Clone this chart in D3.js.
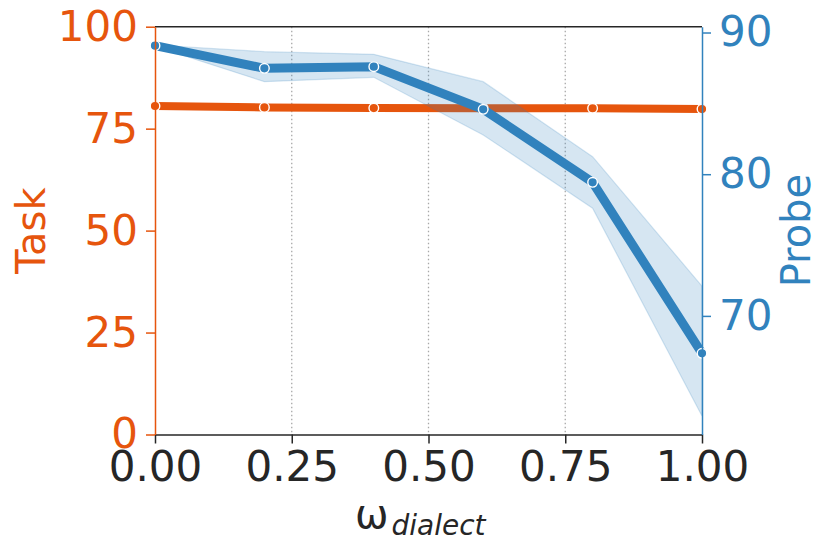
<!DOCTYPE html>
<html>
<head>
<meta charset="utf-8">
<script src="https://cdn.jsdelivr.net/npm/d3@7"></script>
<style>
html,body{margin:0;padding:0;background:#fff;}
text{font-family:"DejaVu Sans",sans-serif;}
</style>
</head>
<body>
<svg id="chart" width="830" height="550"></svg>
<script>
const omega = [0.0, 0.2, 0.4, 0.6, 0.8, 1.0];
const taskValues = [80.55, 80.2, 80.05, 80.0, 80.0, 79.8];
const probeValues = [89.07, 87.47, 87.59, 84.58, 79.43, 67.36];
const probeUpper = [89.12, 88.65, 88.46, 86.53, 81.24, 72.1];
const probeLower = [89.02, 86.53, 86.84, 82.77, 77.6, 62.94];
const xTicks = [0.0, 0.25, 0.5, 0.75, 1.0];
const taskTicks = [0, 25, 50, 75, 100];
const probeTicks = [70, 80, 90];

const ORANGE = "#e6550d", BLUE = "#3182bd", DARK = "#262626";
const L = 155, R = 702, T = 26.7, B = 434.5;
const svg = d3.select("#chart");

const x = d3.scaleLinear().domain([0, 1]).range([L, R]);
const yTask = d3.scaleLinear().domain([0, 100]).range([B, T]);
const yProbe = d3.scaleLinear().domain([61.63, 90.41]).range([B, T]);

// grid
svg.append("g").selectAll("line").data([0.25, 0.5, 0.75]).join("line")
  .attr("x1", d => x(d)).attr("x2", d => x(d)).attr("y1", T).attr("y2", B)
  .attr("stroke", "#a8a8a8").attr("stroke-width", 1.3).attr("stroke-dasharray", "1.6,2.4");

// task line
const lineTask = d3.line().x((d, i) => x(omega[i])).y(d => yTask(d));
svg.append("path").datum(taskValues).attr("d", lineTask)
  .attr("fill", "none").attr("stroke", ORANGE).attr("stroke-width", 8);
svg.append("g").selectAll("circle").data(taskValues).join("circle")
  .attr("cx", (d, i) => x(omega[i])).attr("cy", d => yTask(d)).attr("r", 4.8)
  .attr("fill", ORANGE).attr("stroke", "#fff").attr("stroke-width", 1.4);

// probe band
const area = d3.area().x((d, i) => x(omega[i]))
  .y0((d, i) => yProbe(probeLower[i])).y1((d, i) => yProbe(probeUpper[i]));
svg.append("path").datum(omega).attr("d", area)
  .attr("fill", BLUE).attr("fill-opacity", 0.2)
  .attr("stroke", BLUE).attr("stroke-opacity", 0.2).attr("stroke-width", 1.2);

const lineProbe = d3.line().x((d, i) => x(omega[i])).y(d => yProbe(d));
svg.append("path").datum(probeValues).attr("d", lineProbe)
  .attr("fill", "none").attr("stroke", BLUE).attr("stroke-width", 9);
svg.append("g").selectAll("circle").data(probeValues).join("circle")
  .attr("cx", (d, i) => x(omega[i])).attr("cy", d => yProbe(d)).attr("r", 4.8)
  .attr("fill", BLUE).attr("stroke", "#fff").attr("stroke-width", 1.4);

// spines
svg.append("line").attr("x1", L).attr("x2", R).attr("y1", T).attr("y2", T)
  .attr("stroke", DARK).attr("stroke-width", 1.5);

// axes
function styleAxis(g, color, fs) {
  g.select(".domain").attr("stroke", color).attr("stroke-width", 1.5);
  g.selectAll(".tick line").attr("stroke", color).attr("stroke-width", 1.5);
  g.selectAll(".tick text").attr("fill", color).attr("font-size", fs)
    .attr("font-family", "DejaVu Sans");
}
const gx = svg.append("g").attr("transform", `translate(0,${B})`)
  .call(d3.axisBottom(x).tickValues(xTicks).tickFormat(d3.format(".2f")).tickSize(9).tickPadding(8).tickSizeOuter(0));
styleAxis(gx, DARK, 42);

const gl = svg.append("g").attr("transform", `translate(${L},0)`)
  .call(d3.axisLeft(yTask).tickValues(taskTicks).tickSize(9).tickPadding(8).tickSizeOuter(0));
styleAxis(gl, ORANGE, 42);

const gr = svg.append("g").attr("transform", `translate(${R},0)`)
  .call(d3.axisRight(yProbe).tickValues(probeTicks).tickSize(9).tickPadding(8).tickSizeOuter(0));
styleAxis(gr, BLUE, 42);

// labels
svg.append("text").attr("transform", `translate(45,${(T + B) / 2}) rotate(-90)`)
  .attr("text-anchor", "middle").attr("font-size", 40).attr("fill", ORANGE).text("Task");
svg.append("text").attr("transform", `translate(810,${(T + B) / 2}) rotate(-90)`)
  .attr("text-anchor", "middle").attr("font-size", 40).attr("fill", BLUE).text("Probe");

const xl = svg.append("text").attr("x", 355).attr("y", 528)
  .attr("font-size", 40).attr("fill", DARK);
xl.append("tspan").text("ω");
xl.append("tspan").attr("font-size", 28).attr("font-style", "italic").attr("dy", 7).attr("dx", 3).text("dialect");
</script>
</body>
</html>
